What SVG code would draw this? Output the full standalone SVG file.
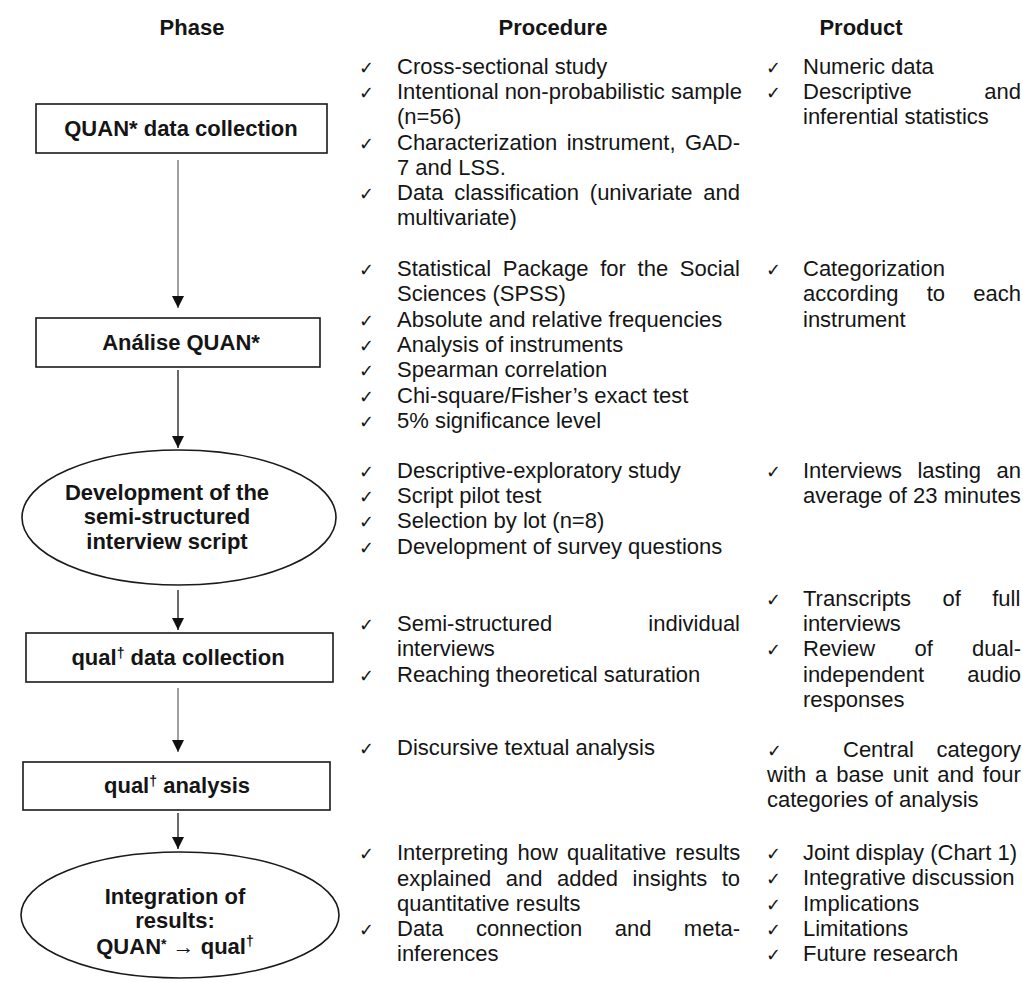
<svg xmlns="http://www.w3.org/2000/svg" width="1023" height="983" viewBox="0 0 1023 983">
<style>
text{font-family:"Liberation Sans",Arial,sans-serif;font-size:22px;fill:#151515}
.h{font-weight:bold;text-anchor:middle}
.n{font-weight:bold;text-anchor:middle}
.ck{font-family:"DejaVu Sans",sans-serif;font-size:18px}
.shape{fill:#fff;stroke:#1a1a1a;stroke-width:1.6}
.c{fill:none;stroke:#1a1a1a;stroke-width:1.3}
.cg{fill:none;stroke:#a0a0a0;stroke-width:2}
.sup{font-size:14px}
</style>
<defs>
<marker id="ah" markerUnits="userSpaceOnUse" viewBox="0 0 12 12" refX="12" refY="6" markerWidth="13" markerHeight="12" orient="auto">
<path d="M0,0 L12,6 L0,12 z" fill="#111"/>
</marker>
</defs>
<rect width="1023" height="983" fill="#fff"/>

<g id="headers">
<text class="h" x="192" y="35">Phase</text>
<text class="h" x="553" y="35">Procedure</text>
<text class="h" x="861" y="35">Product</text>
</g>

<g id="connectors">
<path class="cg" d="M178,160 V308" marker-end="url(#ah)"/>
<path class="c" d="M178,370 V448" marker-end="url(#ah)"/>
<path class="c" d="M178,590 V630" marker-end="url(#ah)"/>
<path class="cg" d="M178,688 V752" marker-end="url(#ah)"/>
<path class="c" d="M178,813 V849" marker-end="url(#ah)"/>
</g>

<g id="node-quan-collection">
<rect class="shape" x="36" y="104" width="291" height="49"/>
<text class="n" x="181" y="136">QUAN* data collection</text>
</g>
<g id="node-quan-analysis">
<rect class="shape" x="36" y="318" width="284" height="49"/>
<text class="n" x="181" y="350">Análise QUAN*</text>
</g>
<g id="node-script">
<ellipse class="shape" cx="179" cy="517.5" rx="157" ry="67.5"/>
<text class="n" x="167" y="500">Development of the</text>
<text class="n" x="167" y="524">semi-structured</text>
<text class="n" x="167" y="549">interview script</text>
</g>
<g id="node-qual-collection">
<rect class="shape" x="26" y="633" width="307" height="49"/>
<text class="n" x="178" y="665">qual<tspan class="sup" dy="-7">†</tspan><tspan dy="7"> data collection</tspan></text>
</g>
<g id="node-qual-analysis">
<rect class="shape" x="23" y="762" width="307" height="48"/>
<text class="n" x="177" y="793">qual<tspan class="sup" dy="-7">†</tspan><tspan dy="7"> analysis</tspan></text>
</g>
<g id="node-integration">
<ellipse class="shape" cx="180" cy="915" rx="159" ry="63"/>
<text class="n" x="175" y="904">Integration of</text>
<text class="n" x="175" y="928">results:</text>
<text class="n" x="175" y="954">QUAN<tspan class="sup" dy="-5">*</tspan><tspan dy="5"> → qual</tspan><tspan class="sup" dy="-8">†</tspan></text>
</g>

<g id="procedure">
<text class="ck" x="359" y="74">✓</text><text x="397" y="74">Cross-sectional study</text>
<text class="ck" x="359" y="99">✓</text><text x="397" y="99">Intentional non-probabilistic sample</text>
<text x="397" y="124">(n=56)</text>
<text class="ck" x="359" y="150">✓</text><text x="397" y="150" style="word-spacing:3.4px">Characterization instrument, GAD-</text>
<text x="397" y="175">7 and LSS.</text>
<text class="ck" x="359" y="200">✓</text><text x="397" y="200" style="word-spacing:4.7px">Data classification (univariate and</text>
<text x="397" y="225">multivariate)</text>

<text class="ck" x="359" y="276">✓</text><text x="397" y="276" style="word-spacing:5.6px">Statistical Package for the Social</text>
<text x="397" y="301">Sciences (SPSS)</text>
<text class="ck" x="359" y="327">✓</text><text x="397" y="327">Absolute and relative frequencies</text>
<text class="ck" x="359" y="352">✓</text><text x="397" y="352">Analysis of instruments</text>
<text class="ck" x="359" y="377">✓</text><text x="397" y="377">Spearman correlation</text>
<text class="ck" x="359" y="403">✓</text><text x="397" y="403">Chi-square/Fisher’s exact test</text>
<text class="ck" x="359" y="428">✓</text><text x="397" y="428">5% significance level</text>

<text class="ck" x="359" y="478">✓</text><text x="397" y="478">Descriptive-exploratory study</text>
<text class="ck" x="359" y="503">✓</text><text x="397" y="503">Script pilot test</text>
<text class="ck" x="359" y="528">✓</text><text x="397" y="528">Selection by lot (n=8)</text>
<text class="ck" x="359" y="554">✓</text><text x="397" y="554">Development of survey questions</text>

<text class="ck" x="359" y="631">✓</text><text x="397" y="631" style="word-spacing:89.9px">Semi-structured individual</text>
<text x="397" y="656">interviews</text>
<text class="ck" x="359" y="682">✓</text><text x="397" y="682">Reaching theoretical saturation</text>

<text class="ck" x="359" y="755">✓</text><text x="397" y="755">Discursive textual analysis</text>

<text class="ck" x="359" y="860">✓</text><text x="397" y="860" style="word-spacing:3.1px">Interpreting how qualitative results</text>
<text x="397" y="886" style="word-spacing:8.4px">explained and added insights to</text>
<text x="397" y="911">quantitative results</text>
<text class="ck" x="359" y="936">✓</text><text x="397" y="936" style="word-spacing:26.3px">Data connection and meta-</text>
<text x="397" y="961">inferences</text>
</g>

<g id="product">
<text class="ck" x="766" y="74">✓</text><text x="803" y="74">Numeric data</text>
<text class="ck" x="766" y="99">✓</text><text x="803" y="99" style="word-spacing:66.4px">Descriptive and</text>
<text x="803" y="124">inferential statistics</text>

<text class="ck" x="766" y="276">✓</text><text x="803" y="276">Categorization</text>
<text x="803" y="301" style="word-spacing:22.2px">according to each</text>
<text x="803" y="327">instrument</text>

<text class="ck" x="766" y="478">✓</text><text x="803" y="478" style="word-spacing:9.3px">Interviews lasting an</text>
<text x="803" y="503">average of 23 minutes</text>

<text class="ck" x="766" y="606">✓</text><text x="803" y="606" style="word-spacing:25.3px">Transcripts of full</text>
<text x="803" y="631">interviews</text>
<text class="ck" x="766" y="656">✓</text><text x="803" y="656" style="word-spacing:33.2px">Review of dual-</text>
<text x="803" y="682" style="word-spacing:37px">independent audio</text>
<text x="803" y="707">responses</text>

<text class="ck" x="767" y="757">✓</text><text x="843" y="757">Central</text><text x="1021" y="757" text-anchor="end">category</text>
<text x="767" y="782" style="word-spacing:2.8px">with a base unit and four</text>
<text x="767" y="807">categories of analysis</text>

<text class="ck" x="766" y="860">✓</text><text x="803" y="860">Joint display (Chart 1)</text>
<text class="ck" x="766" y="885">✓</text><text x="803" y="885">Integrative discussion</text>
<text class="ck" x="766" y="911">✓</text><text x="803" y="911">Implications</text>
<text class="ck" x="766" y="936">✓</text><text x="803" y="936">Limitations</text>
<text class="ck" x="766" y="961">✓</text><text x="803" y="961">Future research</text>
</g>
</svg>
